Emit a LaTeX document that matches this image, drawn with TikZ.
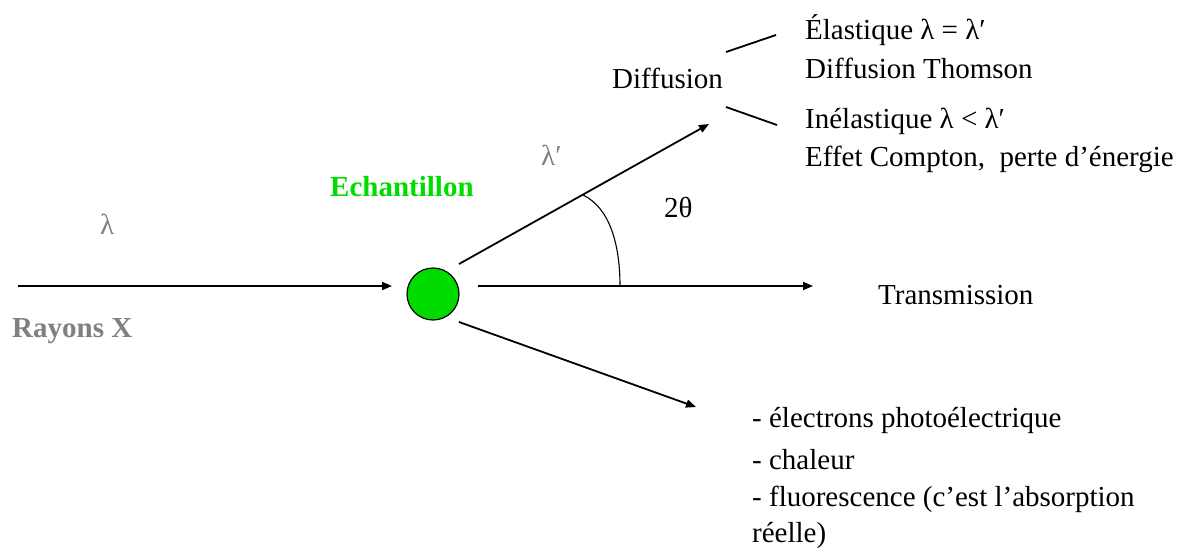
\documentclass[tikz,border=0pt]{standalone}
\usepackage{fontspec}
\setmainfont{Liberation Serif}
\usetikzlibrary{arrows.meta}
\definecolor{sgreen}{RGB}{0,220,0}
\definecolor{sgray}{RGB}{128,128,128}
\tikzset{
  txt/.style={font=\fontsize{29}{38}\selectfont, inner sep=0pt, anchor=west},
  btxt/.style={txt, font=\bfseries\fontsize{29}{38}\selectfont},
  ray/.style={line width=1.8pt, -{Triangle[length=10pt,width=8pt]}},
  ln/.style={line width=1.8pt},
}
\begin{document}
\begin{tikzpicture}[x=1pt,y=-1pt]
\useasboundingbox (0,0) rectangle (1188,549);
% sample
\node[circle, draw=black, line width=1.2pt, fill=sgreen, minimum size=52pt, inner sep=0pt] (s) at (433,294) {};
% coordinates
\coordinate (in0) at (18,286);
\coordinate (in1) at (392,286);
\coordinate (up0) at (459,264);
\coordinate (up1) at (709,124);
\coordinate (tr0) at (478,286);
\coordinate (tr1) at (813,286);
\coordinate (dn0) at (459,322);
\coordinate (dn1) at (696,407);
\coordinate (a0) at (583,195);
\coordinate (a1) at (620,286);
\draw[ray] (in0) -- (in1);
\draw[ray] (up0) -- (up1);
\draw[ray] (tr0) -- (tr1);
\draw[ray] (dn0) -- (dn1);
\draw[line width=1.1pt] (a0) .. controls (610,208) and (620,245) .. (a1);
% labels
\node[txt, text=sgray] (lam) at (100,224) {λ};
\node[btxt, text=sgray] (rx) at (12,331) {Rayons X};
\node[btxt, text=sgreen] (ech) at (330,187) {Echantillon};
\node[txt, text=sgray] (lamp) at (541,155) {λ′};
\node[txt] (tth) at (664,207) {2θ};
\node[txt] (tr) at (878,295) {Transmission};
\node[txt] (dif) at (612,78) {Diffusion};
\coordinate (b0) at (726,52);
\coordinate (b1) at (776,35);
\coordinate (c0) at (726,107);
\coordinate (c1) at (777,125);
\draw[ln] (b0) -- (b1);
\draw[ln] (c0) -- (c1);
\node[txt] (el1) at (805,30) {Élastique λ = λ′};
\node[txt] (el2) at (805,68) {Diffusion Thomson};
\node[txt] (in1t) at (805,121) {Inélastique λ < λ′};
\node[txt] (in2t) at (805,159) {Effet Compton,\ \ perte d’énergie};
\node[txt] (p1) at (752,420) {- électrons photoélectrique};
\node[txt] (p2) at (752,460) {- chaleur};
\node[txt] (p3) at (752,499) {- fluorescence (c’est l’absorption};
\node[txt] (p4) at (752,535) {réelle)};
\end{tikzpicture}
\end{document}
